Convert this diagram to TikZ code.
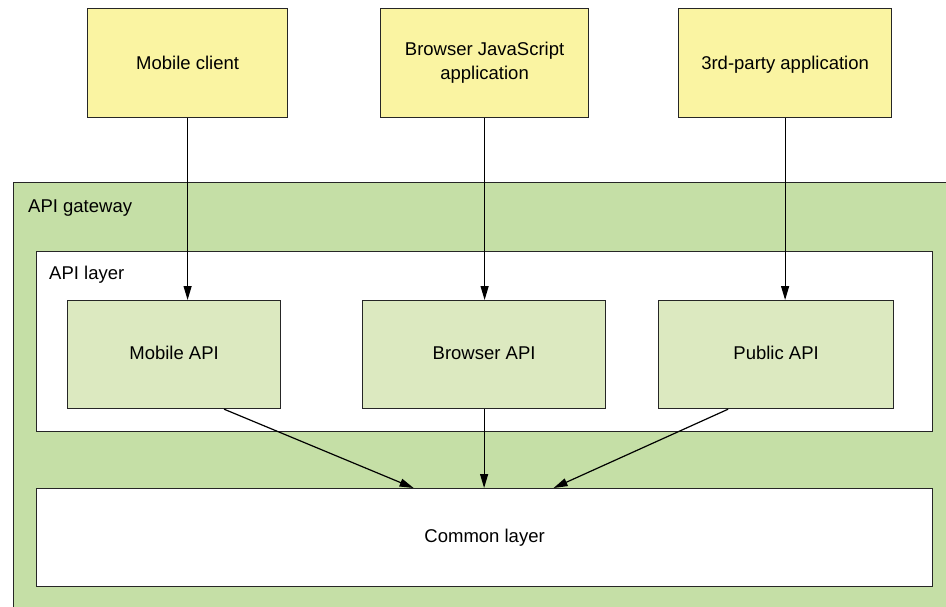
\documentclass[tikz,border=0pt]{standalone}
\usepackage{fontspec}
\setmainfont{Liberation Sans}
\usetikzlibrary{arrows.meta}
\definecolor{clientfill}{HTML}{FAF4A2}
\definecolor{gatewayfill}{HTML}{C5DFA6}
\definecolor{apifill}{HTML}{DCE9C0}
\tikzset{
  box/.style={draw=black!85, line width=1.2pt, anchor=north west, inner sep=0pt,
    align=center, font=\fontsize{18.5}{24}\selectfont},
  oneline/.style={text height=13.5pt, text depth=4pt},
  capcentred/.style={text height=13.2pt, text depth=0pt},
  client/.style={box, fill=clientfill},
  apibox/.style={box, oneline, fill=apifill},
  layer/.style={box, fill=white},
  caption/.style={anchor=base west, inner sep=0pt, font=\fontsize{18.5}{24}\selectfont},
  flow/.style={draw=black, line width=1.2pt, -{Triangle[length=14pt,width=8pt]}}
}
\begin{document}
\begin{tikzpicture}[x=1pt,y=-1pt]
\useasboundingbox (0,0) rectangle (946,607);
\clip (0,0) rectangle (946,607);
% outer gateway region, extending past the right and bottom edges
\node[box, fill=gatewayfill, minimum width=960pt, minimum height=440pt] (gw) at (13,182) {};
\node[caption] (gwlabel) at (28,212) {API gateway};
% API layer
\node[layer, minimum width=896pt, minimum height=180pt] (apilayer) at (36,251) {};
\node[caption] (aplabel) at (49,279) {API layer};
% API boxes
\node[apibox, minimum width=213pt, minimum height=108pt] (mapi) at (67,300) {Mobile API};
\node[apibox, minimum width=243pt, minimum height=108pt] (bapi) at (362,300) {Browser API};
\node[apibox, minimum width=235pt, minimum height=108pt] (papi) at (658,300) {Public API};
% common layer
\node[layer, oneline, minimum width=896pt, minimum height=98pt] (common) at (36,488) {Common layer};
% clients
\node[client, capcentred, minimum width=200pt, minimum height=109pt] (mc) at (87,8) {Mobile client};
\node[client, minimum width=208pt, minimum height=109pt] (bc) at (380,8) {Browser JavaScript\\application};
\node[client, capcentred, minimum width=213pt, minimum height=109pt] (tc) at (678,8) {3rd-party application};
% connectors
\draw[flow] (mc.south) -- (mc.south |- mapi.north);
\draw[flow] (bc.south) -- (bc.south |- bapi.north);
\draw[flow] (tc.south) -- (tc.south |- papi.north);
\coordinate (mfrom) at ([xshift=50pt]mapi.south);
\coordinate (pfrom) at ([xshift=-48pt]papi.south);
\coordinate (mto) at ([xshift=-71pt]common.north);
\coordinate (pto) at ([xshift=69pt]common.north);
\draw[flow] (mfrom) -- (mto);
\draw[flow] (bapi.south) -- (bapi.south |- common.north);
\draw[flow] (pfrom) -- (pto);
\end{tikzpicture}
\end{document}
